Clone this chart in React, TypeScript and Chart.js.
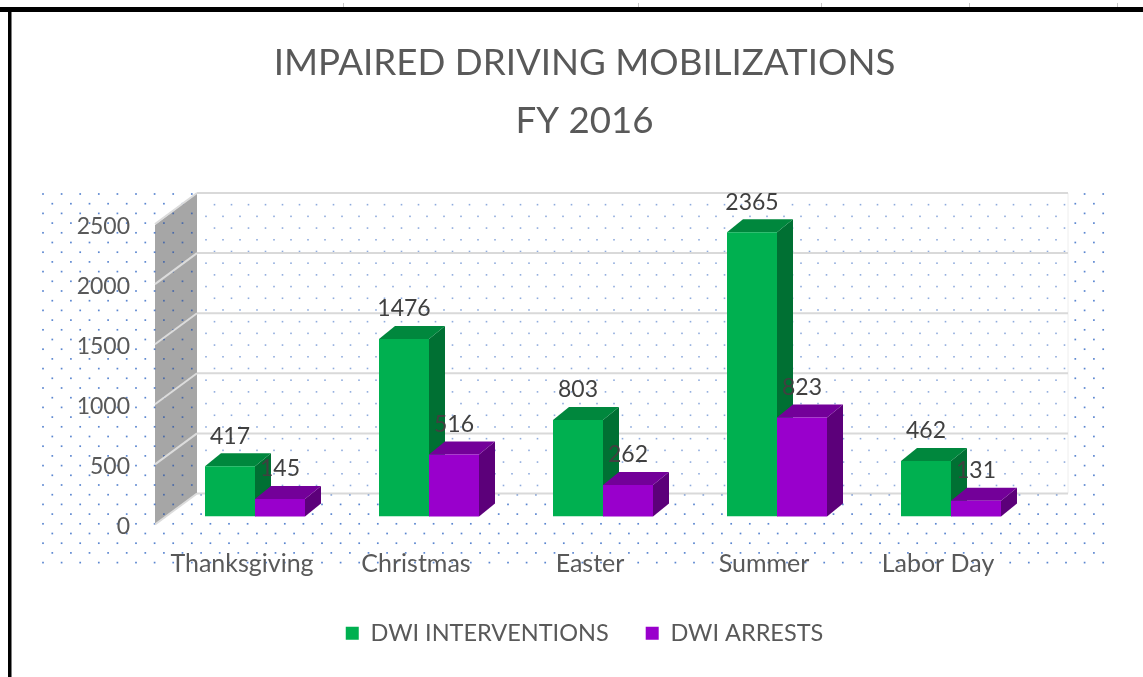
import React, { useEffect, useRef } from "react";
import { Chart, registerables } from "chart.js";

Chart.register(...registerables);

const categories = ["Thanksgiving", "Christmas", "Easter", "Summer", "Labor Day"];
const interventions = [417, 1476, 803, 2365, 462];
const arrests = [145, 516, 262, 823, 131];
const titleLines = ["IMPAIRED DRIVING MOBILIZATIONS", "FY 2016"];
const faces = [
  { front: "#00b050", top: "#00873d", side: "#007033" },
  { front: "#9900cc", top: "#730099", side: "#5c007a" },
];
const FONT = "Lato";
const DEPTH_X = 16;
const DEPTH_Y = 13;

function dots(ctx: CanvasRenderingContext2D, x0: number, y0: number, x1: number, y1: number, sx: number, sy: number, color: string, size: number) {
  ctx.fillStyle = color;
  let row = 0;
  for (let y = y0; y <= y1; y += sy, row++) {
    for (let x = x0 + (row % 2 ? sx / 2 : 0); x <= x1; x += sx) {
      ctx.fillRect(x - size / 2, y - size / 2, size, size);
    }
  }
}

function drawDepth(chart: any, index: number) {
  const { ctx } = chart;
  const f = faces[index];
  ctx.save();
  for (const bar of chart.getDatasetMeta(index).data) {
    const right = bar.x + bar.width / 2;
    const left = bar.x - bar.width / 2;
    ctx.fillStyle = f.side;
    ctx.beginPath();
    ctx.moveTo(right, bar.y);
    ctx.lineTo(right + DEPTH_X, bar.y - DEPTH_Y);
    ctx.lineTo(right + DEPTH_X, bar.base - DEPTH_Y);
    ctx.lineTo(right, bar.base);
    ctx.closePath();
    ctx.fill();
    ctx.fillStyle = f.top;
    ctx.beginPath();
    ctx.moveTo(left, bar.y);
    ctx.lineTo(left + DEPTH_X, bar.y - DEPTH_Y);
    ctx.lineTo(right + DEPTH_X, bar.y - DEPTH_Y);
    ctx.lineTo(right, bar.y);
    ctx.closePath();
    ctx.fill();
  }
  ctx.restore();
}

const stage = {
  id: "stage",
  afterLayout(chart: any) {
    chart.legend.top -= 30;
    chart.legend.bottom -= 30;
  },
  beforeDraw(chart: any) {
    const { ctx, chartArea: a, scales } = chart;
    const y = scales.y;
    ctx.save();
    ctx.fillStyle = "#ffffff";
    ctx.fillRect(0, 0, chart.width, chart.height);
    // frame
    ctx.fillStyle = "#000000";
    ctx.fillRect(0, 7, chart.width, 5);
    ctx.fillRect(8, 7, 3.5, chart.height);
    ctx.fillStyle = "#c8c8c8";
    for (const x of [343, 638, 821, 969, 1117]) ctx.fillRect(x, 3, 1, 4);
    // outer texture
    dots(ctx, 43, 194, 1108, 563, 18.6, 9.7, "#5b86d0", 1.7);
    // back wall
    const bl = a.left + 29, br = a.right + 30;
    const bt = y.getPixelForValue(2500) - 23, bb = y.getPixelForValue(0) - 23;
    ctx.fillStyle = "#ffffff";
    ctx.fillRect(bl, bt - 1, br - bl, bb - bt + 1);
    dots(ctx, bl + 9, bt, br, bb, 17, 11.7, "#8fabdd", 1.6);
    ctx.strokeStyle = "#eeeeee";
    ctx.lineWidth = 1;
    ctx.beginPath();
    ctx.moveTo(br, bt);
    ctx.lineTo(br, bb);
    ctx.stroke();
    // side wall
    const fl = a.left - 13;
    ctx.fillStyle = "#a6a6a6";
    ctx.beginPath();
    ctx.moveTo(fl, y.getPixelForValue(2500) + 9);
    ctx.lineTo(bl, bt);
    ctx.lineTo(bl, bb);
    ctx.lineTo(fl, y.getPixelForValue(0) + 8);
    ctx.closePath();
    ctx.fill();
    ctx.save();
    ctx.clip();
    dots(ctx, 43, 194, 1108, 563, 18.6, 9.7, "#4a6aa8", 1.7);
    ctx.restore();
    // grid
    for (const t of y.ticks) {
      const p = y.getPixelForValue(t.value);
      ctx.strokeStyle = "#d9d9d9";
      ctx.lineWidth = 2;
      ctx.beginPath();
      ctx.moveTo(bl, p - 23);
      ctx.lineTo(br, p - 23);
      ctx.stroke();
      ctx.strokeStyle = "#dcdcdc";
      ctx.beginPath();
      ctx.moveTo(fl, p + 8);
      ctx.lineTo(bl, p - 23);
      ctx.stroke();
    }
    ctx.restore();
  },
  // The first series must sit behind the second, so the second is drawn right after it.
  beforeDatasetDraw(chart: any, args: any) {
    if (args.index === 1) return false;
    drawDepth(chart, 0);
    return true;
  },
  afterDatasetDraw(chart: any, args: any) {
    if (args.index === 0) {
      drawDepth(chart, 1);
      chart.getDatasetMeta(1).controller.draw();
    }
  },
  afterDatasetsDraw(chart: any) {
    const { ctx } = chart;
    ctx.save();
    ctx.font = `23px ${FONT}`;
    ctx.fillStyle = "#404040";
    ctx.textAlign = "center";
    ctx.textBaseline = "middle";
    chart.data.datasets.forEach((ds: any, i: number) => {
      chart.getDatasetMeta(i).data.forEach((bar: any, j: number) => {
        ctx.fillText(String(ds.data[j]), bar.x, bar.y - 30);
      });
    });
    ctx.restore();
  },
};

export default function App() {
  const ref = useRef<HTMLCanvasElement>(null);
  useEffect(() => {
    document.body.style.margin = "0";
    const chart = new Chart(ref.current!, {
      type: "bar",
      data: {
        labels: categories,
        datasets: [
          { label: "DWI INTERVENTIONS", data: interventions, backgroundColor: faces[0].front },
          { label: "DWI ARRESTS", data: arrests, backgroundColor: faces[1].front },
        ],
      },
      plugins: [stage],
      options: {
        responsive: false,
        animation: false,
        layout: { padding: { left: 26, right: 0, top: 0, bottom: -8 } },
        datasets: { bar: { categoryPercentage: 100 / 174, barPercentage: 1, borderWidth: 0 } },
        scales: {
          x: {
            grid: { display: false, drawTicks: false },
            border: { display: false },
            ticks: { color: "#595959", font: { family: FONT, size: 25 }, padding: 32, labelOffset: -13, maxRotation: 0, autoSkip: false },
            afterFit: (s: any) => { s.height = 98; },
          },
          y: {
            min: 0,
            max: 2500,
            grid: { display: false, drawTicks: false },
            border: { display: false },
            ticks: { stepSize: 500, color: "#595959", font: { family: FONT, size: 23 }, padding: 38, labelOffset: 10.5, callback: (v: any) => String(v) },
            afterFit: (s: any) => { s.width = 142; },
          },
          spacer: {
            position: "right",
            grid: { display: false, drawTicks: false },
            border: { display: false },
            ticks: { display: false },
            afterFit: (s: any) => { s.width = 105; },
          },
        },
        plugins: {
          tooltip: { enabled: false },
          title: {
            display: true,
            text: titleLines,
            color: "#595959",
            font: { family: FONT, size: 36.7, weight: "normal", lineHeight: 1.58 },
            padding: { top: 34, bottom: 66 },
          },
          legend: {
            position: "bottom",
            labels: { color: "#595959", font: { family: FONT, size: 23.5 }, boxWidth: 13, boxHeight: 13, padding: 37 },
          },
        },
      } as any,
    });
    return () => chart.destroy();
  }, []);
  return <canvas ref={ref} width={1143} height={677} style={{ display: "block" }} />;
}
